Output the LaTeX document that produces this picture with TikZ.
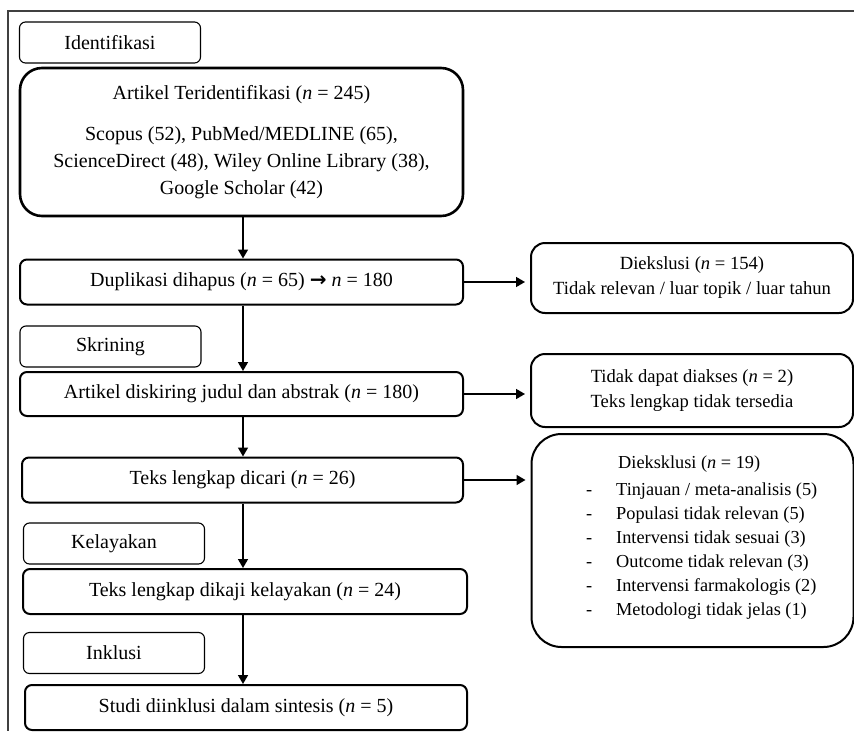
\documentclass[tikz,border=0pt]{standalone}
\usepackage{fontspec}
\setmainfont{Liberation Serif}
\newfontfamily\arrowfont{DejaVu Sans}
\usetikzlibrary{arrows.meta}

\begin{document}
\begin{tikzpicture}[x=1pt, y=-1pt,
  every node/.style={font=\fontsize{20}{27}\selectfont},
  phase/.style={draw, rounded corners=6pt, line width=1.1pt,
                minimum width=181pt, minimum height=41pt, inner sep=0pt},
  box/.style={draw, rounded corners=7pt, line width=2pt,
              minimum width=443pt, minimum height=45pt, align=center, inner sep=0pt},
  excl/.style={draw, rounded corners=14pt, line width=2pt,
               minimum width=322pt, align=center, inner sep=0pt,
               font=\fontsize{18.6}{25}\selectfont},
  arr/.style={-{Triangle[width=10pt,length=9pt]}, line width=1.6pt}
]
  \useasboundingbox (0,0) rectangle (854,731);
  \draw[line width=1.3pt, black!75] (854,11) -- (8,11) -- (8,731);

  % phases
  \node[phase] (ident) at (110,42.5)  {Identifikasi};
  \node[phase] (skr)   at (110.5,346.5) {Skrining};
  \node[phase] (kel)   at (114,543.5) {Kelayakan};
  \node[phase] (inkl)  at (114,653)   {Inklusi};

  % main column
  \node[box, minimum height=148pt, rounded corners=22pt, line width=2.6pt] (src) at (241.5,142)
    {Artikel Teridentifikasi (\textit{n} = 245)\\[14pt]
     Scopus (52), PubMed/MEDLINE (65),\\
     ScienceDirect (48), Wiley Online Library (38),\\
     Google Scholar (42)};
  \node[box] (dup)  at (241.5,282) {Duplikasi dihapus (\textit{n} = 65) {\arrowfont\bfseries →} \textit{n} = 180};
  \node[box, minimum height=44pt] (scr) at (241.5,394)
    {Artikel diskiring judul dan abstrak (\textit{n} = 180)};
  \node[box, minimum width=441pt] (ft)   at (242.5,480) {Teks lengkap dicari (\textit{n} = 26)};
  \node[box, minimum width=444pt] (elig) at (245,591.5) {Teks lengkap dikaji kelayakan (\textit{n} = 24)};
  \node[box, minimum width=442pt] (incl) at (246,707.5) {Studi diinklusi dalam sintesis (\textit{n} = 5)};

  % exclusions
  \node[excl, minimum height=70pt] (ex1) at (692,278)
    {Diekslusi (\textit{n} = 154)\\Tidak relevan / luar topik / luar tahun};
  \node[excl, minimum height=73pt] (ex2) at (692,390.5)
    {Tidak dapat diakses (\textit{n} = 2)\\Teks lengkap tidak tersedia};
  \node[excl, minimum height=213pt, rounded corners=30pt] (ex3) at (692.5,540.5) {};
  \node[anchor=west, align=left, inner sep=0pt, font=\fontsize{18.3}{24}\selectfont] (ex3txt) at (586,537)
    {\begin{tabular}{@{}p{30pt}@{}l@{}}
       & \hspace{2pt}Dieksklusi (\textit{n} = 19)\\[3pt]
     - & Tinjauan / meta-analisis (5)\\
     - & Populasi tidak relevan (5)\\
     - & Intervensi tidak sesuai (3)\\
     - & Outcome tidak relevan (3)\\
     - & Intervensi farmakologis (2)\\
     - & Metodologi tidak jelas (1)
     \end{tabular}};

  \coordinate (spine) at (243,0);
  \draw[arr] (src.south -| spine)  -- (dup.north -| spine);
  \draw[arr] (dup.south -| spine)  -- (scr.north -| spine);
  \draw[arr] (scr.south -| spine)  -- (ft.north -| spine);
  \draw[arr] (ft.south -| spine)   -- (elig.north -| spine);
  \draw[arr] (elig.south -| spine) -- (incl.north -| spine);

  \draw[arr, shorten >=5pt] (dup.east) -- (dup.east -| ex1.west);
  \draw[arr, shorten >=5pt] (scr.east) -- (scr.east -| ex2.west);
  \draw[arr, shorten >=5pt] (ft.east)  -- (ft.east -| ex3.west);
\end{tikzpicture}
\end{document}
